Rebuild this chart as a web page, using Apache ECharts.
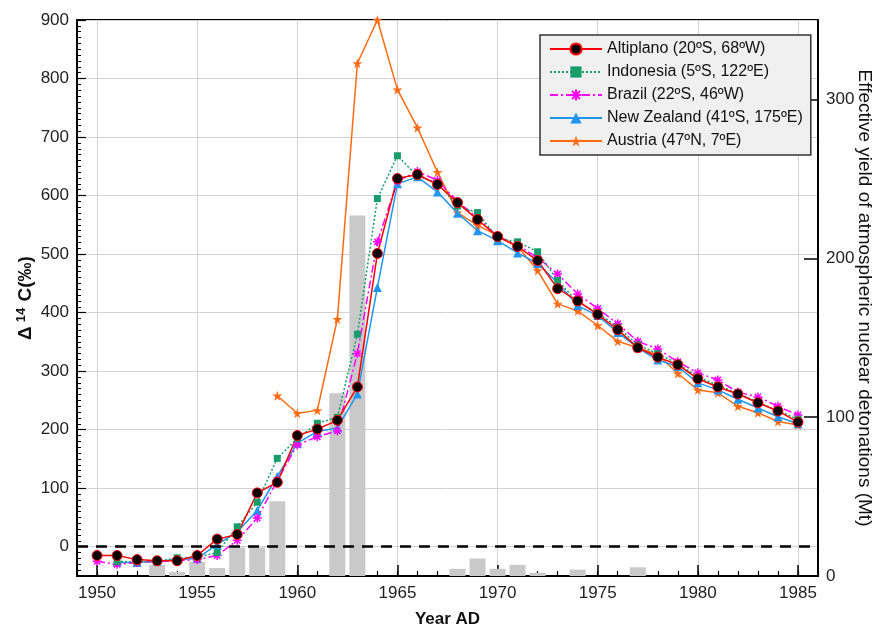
<!DOCTYPE html>
<html lang="en">
<head>
<meta charset="UTF-8">
<title>delta 14C</title>
<script src="https://cdn.jsdelivr.net/npm/echarts@6/dist/echarts.min.js"></script>
<style>
    html, body {margin: 0; background: #fff;}
    #main {width: 878px; height: 628px;}
</style>
</head>
<body>
<div id="main"></div>
<script>
    // values, per year
    var majorYears = [1950, 1955, 1960, 1965, 1970, 1975, 1980, 1985];
    var majorLeft = [0, 100, 200, 300, 400, 500, 600, 700, 800, 900];

    var altiplano = [-15, -15, -22, -24, -24, -15, 13, 21, 92, 110, 190, 201, 216, 273, 501, 629, 636, 619, 588, 559,
        530, 513, 489, 441, 420, 397, 371, 340, 324, 311, 287, 273, 261, 246, 232, 213]; // from 1950
    var indonesia = [-25, -26, -25, -19, -18, -10, 34, 76, 151, 185, 211, 221, 363, 595, 668, 633, 622, 582, 571,
        527, 521, 504, 455, 418, 400, 375, 345, 330, 313, 290, 276, 262, 247, 232, 218]; // from 1951
    var brazil = [-25, -30, -27, -25, -24, -22, -15, 11, 49, 113, 174, 188, 198, 330, 521, 625, 641, 626, 590, 562,
        530, 515, 494, 466, 432, 407, 381, 351, 338, 316, 297, 285, 264, 256, 240, 225]; // from 1950
    var newZealand = [-27, -27, -25, -22, -20, 4, 25, 62, 120, 177, 197, 203, 261, 443, 620, 632, 606, 570, 540,
        523, 502, 484, 451, 412, 395, 366, 340, 319, 308, 280, 268, 252, 237, 222, 210]; // from 1951
    var austria = [258, 228, 233, 389, 826, 900, 781, 716, 640, 571, 549, 532, 513, 472, 415, 403, 378, 351, 340,
        328, 296, 268, 263, 240, 229, 214, 208]; // from 1959

    var barYears = [1953, 1954, 1955, 1956, 1957, 1958, 1959, 1962, 1963, 1968, 1969, 1970, 1971, 1972, 1974, 1977];
    var barYield = [7, 2.5, 9, 5, 18, 18, 47, 115, 227, 4.5, 11, 4.5, 7, 2, 4, 5.5];

    function pairs(start, vals) {
        var res = [];
        for (var i = 0; i < vals.length; i++) {
            res.push([start + i, vals[i]]);
        }
        return res;
    }

    var bars = [];
    for (var i = 0; i < barYears.length; i++) {
        bars.push([barYears[i], barYield[i]]);
    }

    var FONT = 'Liberation Sans, Arial, sans-serif';
    var none = 'rgba(0,0,0,0)';
    var grey = '#d2d2d2';
    var starPath = 'path://M50,0L61,35L98,35L68,57L79,91L50,70L21,91L32,57L2,35L39,35Z';
    var asterPath = 'path://M0,-10L0,10M-10,0L10,0M-7,-7L7,7M-7,7L7,-7';

    var myChart = echarts.init(document.getElementById('main'));

    var option = {
        animation: false,
        textStyle: {fontFamily: FONT},
        grid: {
            left: 77, right: 60, top: 20, bottom: 52,
            containLabel: false, outerBoundsMode: 'none',
            show: true, borderColor: '#000', borderWidth: 2
        },
        legend: {
            data: ['Altiplano (20ºS, 68ºW)', 'Indonesia (5ºS, 122ºE)', 'Brazil (22ºS, 46ºW)',
                'New Zealand (41ºS, 175ºE)', 'Austria (47ºN, 7ºE)'],
            orient: 'vertical',
            left: 540, top: 35,
            padding: [6, 8, 6, 9],
            itemWidth: 52, itemHeight: 14, itemGap: 7,
            backgroundColor: '#f0f0f0',
            borderColor: '#333', borderWidth: 1.5,
            textStyle: {fontSize: 16, color: '#111', fontFamily: FONT}
        },
        xAxis: [{
            type: 'value', min: 1949, max: 1986, interval: 1,
            name: 'Year AD', nameLocation: 'middle', nameGap: 35,
            nameTextStyle: {fontSize: 17, fontWeight: 'bold', color: '#111', fontFamily: FONT},
            axisLine: {onZero: false, lineStyle: {color: '#000', width: 2}},
            axisTick: {inside: true, length: 5, lineStyle: {color: '#000', width: 1.2}},
            axisLabel: {
                fontSize: 17, color: '#222', margin: 9,
                formatter: function (v) { return v % 5 === 0 ? String(v) : ''; }
            },
            splitLine: {show: true, lineStyle: {color: [none, grey, none, none, none], width: 1}}
        }, {
            type: 'value', min: 1949, max: 1986, interval: 1, position: 'bottom',
            axisLine: {show: false, onZero: false},
            axisTick: {show: true, inside: true, length: 11, customValues: majorYears,
                lineStyle: {color: '#000', width: 1.5}},
            axisLabel: {show: false},
            splitLine: {show: false}
        }],
        yAxis: [{
            type: 'value', min: -50, max: 900, interval: 10, position: 'left',
            name: '{d|Δ}{s|14}{d| C(‰)}', nameLocation: 'middle', nameGap: 40, nameRotate: 90,
            nameMoveOverlap: false,
            nameTextStyle: {
                rich: {
                    d: {fontSize: 19, fontWeight: 'bold', color: '#111', fontFamily: FONT},
                    s: {fontSize: 13, fontWeight: 'bold', color: '#111', fontFamily: FONT, padding: [0, 1, 9, 4]}
                }
            },
            axisLine: {onZero: false, lineStyle: {color: '#000', width: 2}},
            axisTick: {inside: true, length: 4, lineStyle: {color: '#000', width: 1}},
            axisLabel: {
                fontSize: 17, color: '#222', margin: 8,
                formatter: function (v) { return v % 100 === 0 ? String(v) : ''; }
            },
            splitLine: {show: true, lineStyle: {color: [none, none, none, none, none, grey, none, none, none, none]}}
        }, {
            type: 'value', min: 0, max: 350, interval: 100, position: 'right',
            name: 'Effective yield of atmospheric nuclear detonations (Mt)',
            nameLocation: 'middle', nameGap: 37, nameRotate: -90, nameMoveOverlap: false,
            nameTextStyle: {fontSize: 19, color: '#111', fontFamily: FONT},
            axisLine: {onZero: false, lineStyle: {color: '#000', width: 2}},
            axisTick: {inside: true, length: 14, lineStyle: {color: '#000', width: 1.5}},
            axisLabel: {fontSize: 17, color: '#222', margin: 8, showMaxLabel: false},
            splitLine: {show: false}
        }, {
            type: 'value', min: -50, max: 900, interval: 10, position: 'left',
            axisLine: {show: false, onZero: false},
            axisTick: {show: true, inside: true, length: 9, customValues: majorLeft,
                lineStyle: {color: '#000', width: 1.2}},
            axisLabel: {show: false},
            splitLine: {show: false}
        }],
        series: [{
            name: 'yield', type: 'bar', xAxisIndex: 0, yAxisIndex: 1,
            data: bars, barWidth: 16,
            itemStyle: {color: '#c9c9c9'}
        }, {
            name: 'Austria (47ºN, 7ºE)', type: 'line', data: pairs(1959, austria),
            symbol: starPath, symbolSize: 10, clip: false,
            lineStyle: {color: '#ff6a13', width: 1.5},
            itemStyle: {color: '#ff6a13'}
        }, {
            name: 'New Zealand (41ºS, 175ºE)', type: 'line', data: pairs(1951, newZealand),
            symbol: 'triangle', symbolSize: 9,
            lineStyle: {color: '#1e96f0', width: 1.5},
            itemStyle: {color: '#1e96f0'}
        }, {
            name: 'Brazil (22ºS, 46ºW)', type: 'line', data: pairs(1950, brazil),
            symbol: asterPath, symbolSize: 9,
            lineStyle: {color: '#ff00ff', width: 1.5, type: [8, 3, 2, 3]},
            itemStyle: {color: '#ff00ff', borderColor: '#ff00ff', borderWidth: 1.5}
        }, {
            name: 'Indonesia (5ºS, 122ºE)', type: 'line', data: pairs(1951, indonesia),
            symbol: 'rect', symbolSize: 7,
            lineStyle: {color: '#179c6b', width: 1.5, type: [2, 2]},
            itemStyle: {color: '#179c6b'}
        }, {
            name: 'Altiplano (20ºS, 68ºW)', type: 'line', data: pairs(1950, altiplano),
            symbol: 'circle', symbolSize: 10,
            lineStyle: {color: '#ff0000', width: 1.5},
            itemStyle: {color: '#000', borderColor: '#ff0000', borderWidth: 1},
            markLine: {
                silent: true, symbol: 'none', label: {show: false},
                lineStyle: {color: '#000', type: [11, 8], width: 2.5},
                data: [{yAxis: 0}]
            }
        }]
    };

    myChart.setOption(option);
</script>
</body>
</html>
